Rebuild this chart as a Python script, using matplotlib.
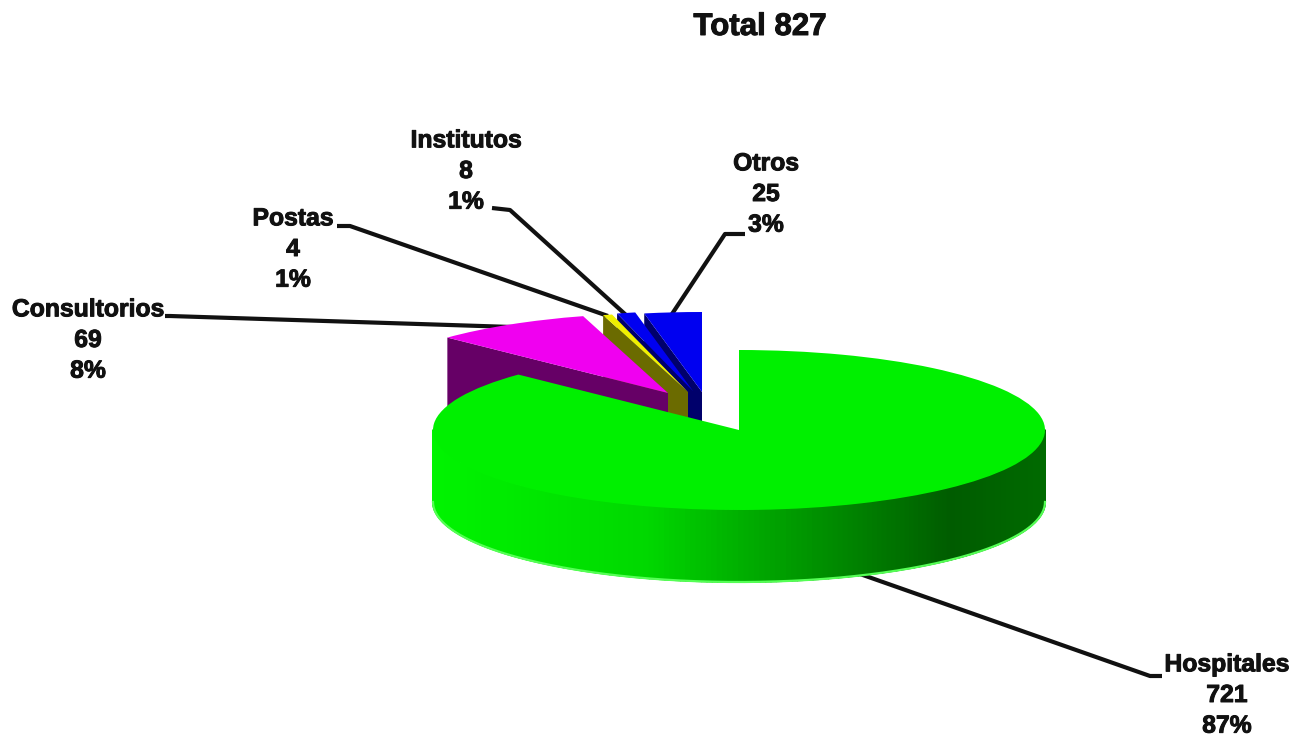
import numpy as np
import matplotlib
matplotlib.use("Agg")
import matplotlib.pyplot as plt
import matplotlib.patheffects as pe
from matplotlib.patches import Wedge, Polygon
from matplotlib.collections import PolyCollection
from matplotlib.colors import LinearSegmentedColormap
from matplotlib.transforms import Affine2D

plt.rcParams['font.family'] = ['Liberation Sans', 'DejaVu Sans']

# data, clockwise from 12 o'clock
names = ['Hospitales', 'Consultorios', 'Postas', 'Institutos', 'Otros']
values = [721, 69, 4, 8, 25]
percents = [87, 8, 1, 1, 3]

# look of each slice
top_colors = ['#00f000', '#f000f0', '#f0f000', '#0000f0', '#0000f0']
wall_colors = ['#006000', '#660066', '#6b6b00', '#00006b', '#00006b']
shift_x = [0, -71, -51, -46, -37]
shift_y = [0, -37, -38, -39, -38]

# label centres and where the leader lines run
label_x = [1227, 88, 293, 466, 766]
label_y = [695, 340, 249, 171, 194]
leader_x = [[860, 1150, 1162], [512, 170, 165], [608, 350, 337], [626, 510, 492], [672, 725, 745]]
leader_y = [[574, 676, 676], [327, 316, 316], [316, 226, 226], [315, 210, 208], [314, 234, 234]]

cx, cy = 739, 430
rx, ry = 306, 80
depth = 72


def edge_point(theta, dx=0, dy=0):
    t = np.radians(theta)
    return cx + dx + rx * np.cos(t), cy + dy - ry * np.sin(t)


fig = plt.figure(figsize=(12.94, 7.39), dpi=100)
ax = fig.add_axes([0, 0, 1, 1])
ax.set_xlim(0, 1294)
ax.set_ylim(739, 0)
ax.axis('off')

# start angles going clockwise
sweep = np.array(values) / sum(values) * 360
ends = 90 - np.cumsum(sweep)
starts = ends + sweep

# exploded slices back to front, the big one goes on top at the end
for i in [4, 3, 2, 1]:
    dx, dy = shift_x[i], shift_y[i]
    # left cut face of the slice
    ox, oy = edge_point(starts[i], dx, dy)
    px, py = cx + dx, cy + dy
    ax.add_patch(Polygon([(ox, oy), (px, py), (px, py + depth), (ox, oy + depth)],
                         closed=True, facecolor=wall_colors[i], edgecolor='none', zorder=2 + (4 - i)))
    tr = Affine2D().scale(rx, -ry).translate(cx + dx, cy + dy) + ax.transData
    ax.add_patch(Wedge((0, 0), 1, ends[i], starts[i], transform=tr,
                       facecolor=top_colors[i], edgecolor='none', zorder=2 + (4 - i)))

# hospital rim with the shading from left to right
shade = LinearSegmentedColormap.from_list('rim', [(0, '#00f400'), (0.35, '#00d800'), (0.5, '#00b000'),
                                                  (0.7, '#008000'), (0.85, '#005c00'), (1, '#006a00')])
steps = np.arange(180, 360, 1.0)
quads = []
quad_cols = []
for a in steps:
    x0, y0 = edge_point(a)
    x1, y1 = edge_point(a + 1)
    quads.append([(x0, y0), (x1, y1), (x1, y1 + depth), (x0, y0 + depth)])
    quad_cols.append(shade(((x0 + x1) / 2 - (cx - rx)) / (2 * rx)))
ax.add_collection(PolyCollection(quads, facecolors=quad_cols, edgecolors=quad_cols, linewidths=1.2, zorder=10))

rim = np.arange(180, 361, 1.0)
rim_x, rim_y = edge_point(rim, 0, depth)
ax.plot(rim_x, rim_y, color='#55ff55', lw=1.6, zorder=11)

tr = Affine2D().scale(rx, -ry).translate(cx, cy) + ax.transData
ax.add_patch(Wedge((0, 0), 1, ends[0], starts[0], transform=tr,
                   facecolor=top_colors[0], edgecolor='none', zorder=12))

# leaders
for xs, ys in zip(leader_x, leader_y):
    ax.plot(xs, ys, color='#111111', lw=3, solid_capstyle='butt', zorder=1)

# labels, thickened a bit since the original is a blurry scan
heavy = [pe.withStroke(linewidth=0.7, foreground='#111111')]
for i in range(len(names)):
    ax.text(label_x[i], label_y[i], f"{names[i]}\n{values[i]}\n{percents[i]}%",
            ha='center', va='center', fontsize=17.8, fontweight='bold', linespacing=1.35,
            color='#111111', zorder=20, path_effects=heavy)

ax.text(760, 27, f"Total {sum(values)}", ha='center', va='center', fontsize=22.5,
        fontweight='bold', color='#111111', zorder=20, path_effects=heavy)

fig.savefig('out.png', dpi=100)
